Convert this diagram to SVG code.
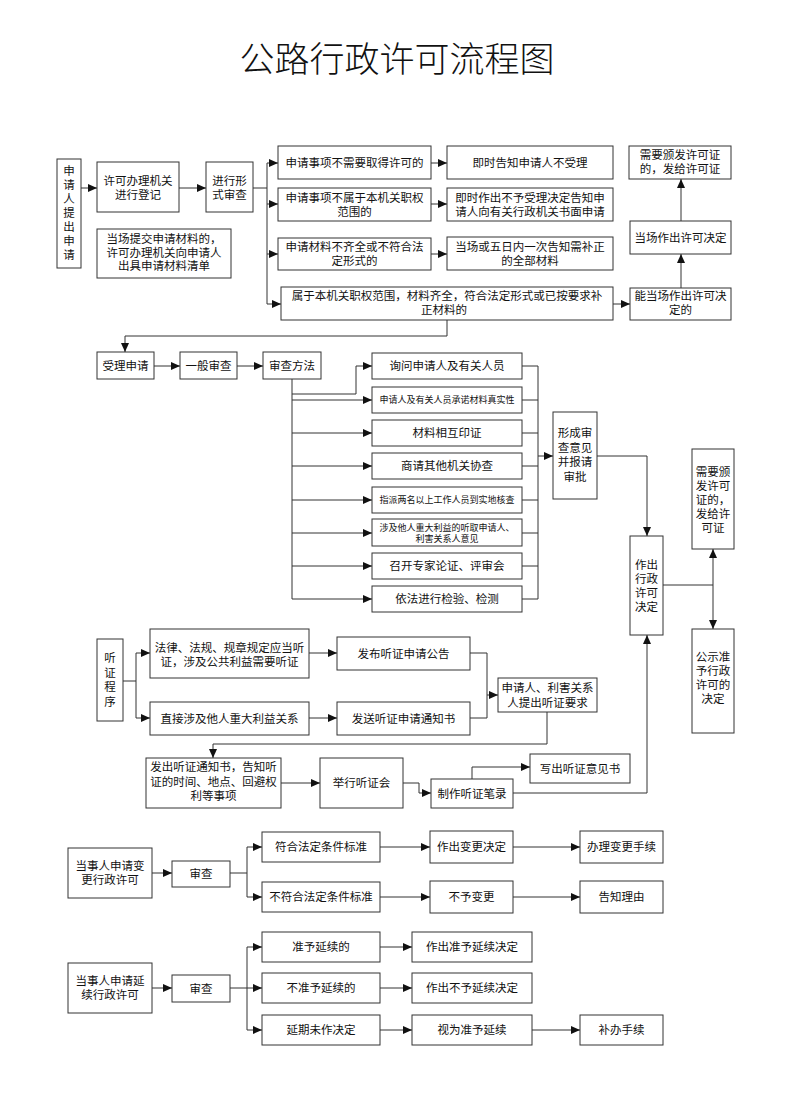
<svg xmlns="http://www.w3.org/2000/svg" width="800" height="1107" viewBox="0 0 800 1107">
<style>
.b{fill:#fff;stroke:#333;stroke-width:1}
.t{font-family:"Liberation Sans","Noto Sans CJK SC",sans-serif;font-size:11.5px;fill:#111;text-anchor:middle}
.s{font-size:9px}
.st{text-anchor:start}
.c{fill:none;stroke:#333;stroke-width:1}
.a{marker-end:url(#ah)}
</style>
<defs>
<marker id="ah" markerUnits="userSpaceOnUse" markerWidth="9" markerHeight="8" refX="9" refY="4" orient="auto"><path d="M0,0 L9,4 L0,8 z" fill="#111"/></marker>
</defs>
<rect width="800" height="1107" fill="#fff"/>
<text x="397" y="72" style="font-family:'Liberation Serif','Noto Sans CJK SC',serif;font-size:35px;font-weight:300;fill:#111;text-anchor:middle">公路行政许可流程图</text>

<g id="connectors">
<path class="c a" d="M81,188 H97"/>
<path class="c a" d="M179,188 H206"/>
<path class="c" d="M253,188 H267 M267,163 V304"/>
<path class="c a" d="M267,163 H278"/>
<path class="c a" d="M267,204 H278"/>
<path class="c a" d="M267,254 H278"/>
<path class="c a" d="M267,304 H281"/>
<path class="c a" d="M431,163 H447"/>
<path class="c a" d="M431,204 H447"/>
<path class="c a" d="M431,254 H447"/>
<path class="c a" d="M613,304 H630"/>
<path class="c a" d="M681,288 V254"/>
<path class="c a" d="M681,221 V179"/>
<path class="c a" d="M447,320 V336 H125 V352"/>
<path class="c a" d="M154,366 H180"/>
<path class="c a" d="M237,366 H263"/>
<path class="c" d="M292,379 V599"/>
<path class="c a" d="M292,394 H356 V366 H372"/>
<path class="c a" d="M292,400 H372"/>
<path class="c a" d="M292,433 H372"/>
<path class="c a" d="M292,466 H372"/>
<path class="c a" d="M292,500 H372"/>
<path class="c a" d="M292,533 H372"/>
<path class="c a" d="M292,566 H372"/>
<path class="c a" d="M292,599 H372"/>
<path class="c" d="M522,366 H538 M522,400 H538 M522,433 H538 M522,466 H538 M522,500 H538 M522,533 H538 M522,566 H538 M522,599 H538 M538,366 V599"/>
<path class="c a" d="M538,456 H553"/>
<path class="c a" d="M597,456 H647 V536"/>
<path class="c" d="M663,585 H713"/>
<path class="c a" d="M713,585 V549"/>
<path class="c a" d="M713,585 V629"/>
<path class="c" d="M123,681 H136"/>
<path class="c a" d="M136,681 V653 H150"/>
<path class="c a" d="M136,681 V718 H150"/>
<path class="c a" d="M309,653 H337"/>
<path class="c a" d="M309,718 H337"/>
<path class="c" d="M470,653 H487 V718 H470"/>
<path class="c a" d="M487,695 H498"/>
<path class="c a" d="M547,712 V744 H213 V758"/>
<path class="c a" d="M281,783 H320"/>
<path class="c a" d="M403,783 H419 V793 H431"/>
<path class="c a" d="M472,779 V767 H530"/>
<path class="c a" d="M513,793 H647 V635"/>
<path class="c a" d="M152,873 H172"/>
<path class="c" d="M230,873 H247 M247,847 V897"/>
<path class="c a" d="M247,847 H262"/>
<path class="c a" d="M247,897 H262"/>
<path class="c a" d="M380,847 H430"/>
<path class="c a" d="M513,847 H580"/>
<path class="c a" d="M380,897 H430"/>
<path class="c a" d="M513,897 H580"/>
<path class="c a" d="M152,988 H172"/>
<path class="c" d="M247,947 V1030"/>
<path class="c a" d="M230,988 H262"/>
<path class="c a" d="M247,947 H262"/>
<path class="c a" d="M247,1030 H262"/>
<path class="c a" d="M380,947 H412"/>
<path class="c a" d="M380,988 H412"/>
<path class="c a" d="M380,1030 H412"/>
<path class="c a" d="M532,1030 H580"/>
</g>

<g id="n1"><rect class="b" x="57" y="159" width="24" height="109"/><text class="t" x="69" y="175">申<tspan x="69" dy="14">请</tspan><tspan x="69" dy="14">人</tspan><tspan x="69" dy="14">提</tspan><tspan x="69" dy="14">出</tspan><tspan x="69" dy="14">申</tspan><tspan x="69" dy="14">请</tspan></text></g>
<g id="n2"><rect class="b" x="97" y="162" width="82" height="50"/><text class="t" x="138" y="185">许可办理机关<tspan x="138" dy="14">进行登记</tspan></text></g>
<g id="n3"><rect class="b" x="206" y="162" width="47" height="50"/><text class="t" x="229.5" y="185">进行形<tspan x="229.5" dy="14">式审查</tspan></text></g>
<g id="n4"><rect class="b" x="97" y="229" width="134" height="49"/><text class="t" x="164" y="243">当场提交申请材料的，<tspan x="164" dy="13.5">许可办理机关向申请人</tspan><tspan x="164" dy="13.5">出具申请材料清单</tspan></text></g>
<g id="n5"><rect class="b" x="278" y="146" width="153" height="33"/><text class="t" x="354.5" y="167">申请事项不需要取得许可的</text></g>
<g id="n6"><rect class="b" x="278" y="188" width="153" height="33"/><text class="t" x="354.5" y="202">申请事项不属于本机关职权<tspan x="354.5" dy="13.5">范围的</tspan></text></g>
<g id="n7"><rect class="b" x="278" y="238" width="153" height="32"/><text class="t" x="354.5" y="251">申请材料不齐全或不符合法<tspan x="354.5" dy="13.5">定形式的</tspan></text></g>
<g id="n8"><rect class="b" x="281" y="287" width="332" height="33"/><text class="t" x="447" y="300">属于本机关职权范围，材料齐全，符合法定形式或已按要求补</text><text class="t st" x="421" y="314">正材料的</text></g>
<g id="n9"><rect class="b" x="447" y="146" width="166" height="33"/><text class="t" x="530" y="167">即时告知申请人不受理</text></g>
<g id="n10"><rect class="b" x="447" y="188" width="166" height="33"/><text class="t" x="530" y="202">即时作出不予受理决定告知申<tspan x="530" dy="13.5">请人向有关行政机关书面申请</tspan></text></g>
<g id="n11"><rect class="b" x="447" y="237" width="166" height="33"/><text class="t" x="530" y="251">当场或五日内一次告知需补正<tspan x="530" dy="13.5">的全部材料</tspan></text></g>
<g id="n12"><rect class="b" x="630" y="288" width="101" height="32"/><text class="t" x="680.5" y="300">能当场作出许可决<tspan x="680.5" dy="14">定的</tspan></text></g>
<g id="n13"><rect class="b" x="630" y="221" width="101" height="33"/><text class="t" x="680.5" y="242">当场作出许可决定</text></g>
<g id="n14"><rect class="b" x="629" y="146" width="102" height="33"/><text class="t" x="680" y="159">需要颁发许可证<tspan x="680" dy="14">的，发给许可证</tspan></text></g>

<g id="n15"><rect class="b" x="97" y="352" width="57" height="27"/><text class="t" x="125.5" y="370">受理申请</text></g>
<g id="n16"><rect class="b" x="180" y="352" width="57" height="27"/><text class="t" x="208.5" y="370">一般审查</text></g>
<g id="n17"><rect class="b" x="263" y="352" width="58" height="27"/><text class="t" x="292" y="370">审查方法</text></g>
<g id="n18"><rect class="b" x="372" y="353" width="150" height="26"/><text class="t" x="447" y="370">询问申请人及有关人员</text></g>
<g id="n19"><rect class="b" x="372" y="387" width="150" height="26"/><text class="t s" x="447" y="403">申请人及有关人员承诺材料真实性</text></g>
<g id="n20"><rect class="b" x="372" y="420" width="150" height="26"/><text class="t" x="447" y="437">材料相互印证</text></g>
<g id="n21"><rect class="b" x="372" y="453" width="150" height="26"/><text class="t" x="447" y="470">商请其他机关协查</text></g>
<g id="n22"><rect class="b" x="372" y="487" width="150" height="26"/><text class="t s" x="447" y="503">指派两名以上工作人员到实地核查</text></g>
<g id="n23"><rect class="b" x="372" y="519" width="150" height="27"/><text class="t s" x="447" y="530.5">涉及他人重大利益的听取申请人、<tspan x="447" dy="11.5">利害关系人意见</tspan></text></g>
<g id="n24"><rect class="b" x="372" y="553" width="150" height="26"/><text class="t" x="447" y="570">召开专家论证、评审会</text></g>
<g id="n25"><rect class="b" x="372" y="586" width="150" height="26"/><text class="t" x="447" y="603">依法进行检验、检测</text></g>
<g id="n26"><rect class="b" x="553" y="412" width="44" height="87"/><text class="t" x="575" y="437">形成审<tspan x="575" dy="14.5">查意见</tspan><tspan x="575" dy="14.5">并报请</tspan><tspan x="575" dy="14.5">审批</tspan></text></g>
<g id="n27"><rect class="b" x="630" y="536" width="33" height="99"/><text class="t" x="646.5" y="569">作出<tspan x="646.5" dy="14">行政</tspan><tspan x="646.5" dy="14">许可</tspan><tspan x="646.5" dy="14">决定</tspan></text></g>
<g id="n28"><rect class="b" x="692" y="449" width="42" height="100"/><text class="t" x="713" y="476">需要颁<tspan x="713" dy="14">发许可</tspan><tspan x="713" dy="14">证的，</tspan><tspan x="713" dy="14">发给许</tspan><tspan x="713" dy="14">可证</tspan></text></g>
<g id="n29"><rect class="b" x="692" y="629" width="42" height="104"/><text class="t" x="713" y="661">公示准<tspan x="713" dy="14">予行政</tspan><tspan x="713" dy="14">许可的</tspan><tspan x="713" dy="14">决定</tspan></text></g>

<g id="n30"><rect class="b" x="97" y="639" width="26" height="82"/><text class="t" x="110" y="662">听<tspan x="110" dy="14.5">证</tspan><tspan x="110" dy="14.5">程</tspan><tspan x="110" dy="14.5">序</tspan></text></g>
<g id="n31"><rect class="b" x="150" y="629" width="159" height="49"/><text class="t" x="229.5" y="652">法律、法规、规章规定应当听<tspan x="229.5" dy="14">证，涉及公共利益需要听证</tspan></text></g>
<g id="n32"><rect class="b" x="150" y="702" width="159" height="33"/><text class="t" x="229.5" y="722.5">直接涉及他人重大利益关系</text></g>
<g id="n33"><rect class="b" x="337" y="637" width="133" height="33"/><text class="t" x="403.5" y="657.5">发布听证申请公告</text></g>
<g id="n34"><rect class="b" x="337" y="702" width="133" height="33"/><text class="t" x="403.5" y="722.5">发送听证申请通知书</text></g>
<g id="n35"><rect class="b" x="498" y="678" width="99" height="34"/><text class="t" x="547.5" y="692">申请人、利害关系<tspan x="547.5" dy="15">人提出听证要求</tspan></text></g>
<g id="n36"><rect class="b" x="146" y="758" width="135" height="50"/><text class="t" x="213.5" y="771">发出听证通知书，告知听<tspan x="213.5" dy="14.5">证的时间、地点、回避权</tspan><tspan x="213.5" dy="14.5">利等事项</tspan></text></g>
<g id="n37"><rect class="b" x="320" y="758" width="83" height="50"/><text class="t" x="361.5" y="787">举行听证会</text></g>
<g id="n38"><rect class="b" x="431" y="779" width="82" height="29"/><text class="t" x="472" y="797.5">制作听证笔录</text></g>
<g id="n39"><rect class="b" x="530" y="754" width="100" height="29"/><text class="t" x="580" y="772.5">写出听证意见书</text></g>

<g id="n40"><rect class="b" x="68" y="848" width="84" height="50"/><text class="t" x="110" y="870">当事人申请变<tspan x="110" dy="14">更行政许可</tspan></text></g>
<g id="n41"><rect class="b" x="172" y="861" width="58" height="26"/><text class="t" x="201" y="878">审查</text></g>
<g id="n42"><rect class="b" x="262" y="832" width="118" height="30"/><text class="t" x="321" y="851">符合法定条件标准</text></g>
<g id="n43"><rect class="b" x="262" y="882" width="118" height="30"/><text class="t" x="321" y="901">不符合法定条件标准</text></g>
<g id="n44"><rect class="b" x="430" y="831" width="83" height="32"/><text class="t" x="471.5" y="851">作出变更决定</text></g>
<g id="n45"><rect class="b" x="580" y="831" width="83" height="32"/><text class="t" x="621.5" y="851">办理变更手续</text></g>
<g id="n46"><rect class="b" x="430" y="881" width="83" height="32"/><text class="t" x="471.5" y="901">不予变更</text></g>
<g id="n47"><rect class="b" x="580" y="881" width="83" height="32"/><text class="t" x="621.5" y="901">告知理由</text></g>
<g id="n48"><rect class="b" x="68" y="963" width="84" height="50"/><text class="t" x="110" y="985">当事人申请延<tspan x="110" dy="14">续行政许可</tspan></text></g>
<g id="n49"><rect class="b" x="172" y="975" width="58" height="27"/><text class="t" x="201" y="992.5">审查</text></g>
<g id="n50"><rect class="b" x="262" y="932" width="118" height="30"/><text class="t" x="321" y="951">准予延续的</text></g>
<g id="n51"><rect class="b" x="262" y="973" width="118" height="30"/><text class="t" x="321" y="992">不准予延续的</text></g>
<g id="n52"><rect class="b" x="262" y="1015" width="118" height="30"/><text class="t" x="321" y="1034">延期未作决定</text></g>
<g id="n53"><rect class="b" x="412" y="932" width="120" height="30"/><text class="t" x="472" y="951">作出准予延续决定</text></g>
<g id="n54"><rect class="b" x="412" y="973" width="120" height="30"/><text class="t" x="472" y="992">作出不予延续决定</text></g>
<g id="n55"><rect class="b" x="412" y="1015" width="120" height="30"/><text class="t" x="472" y="1034">视为准予延续</text></g>
<g id="n56"><rect class="b" x="580" y="1015" width="83" height="30"/><text class="t" x="621.5" y="1034">补办手续</text></g>
</svg>
